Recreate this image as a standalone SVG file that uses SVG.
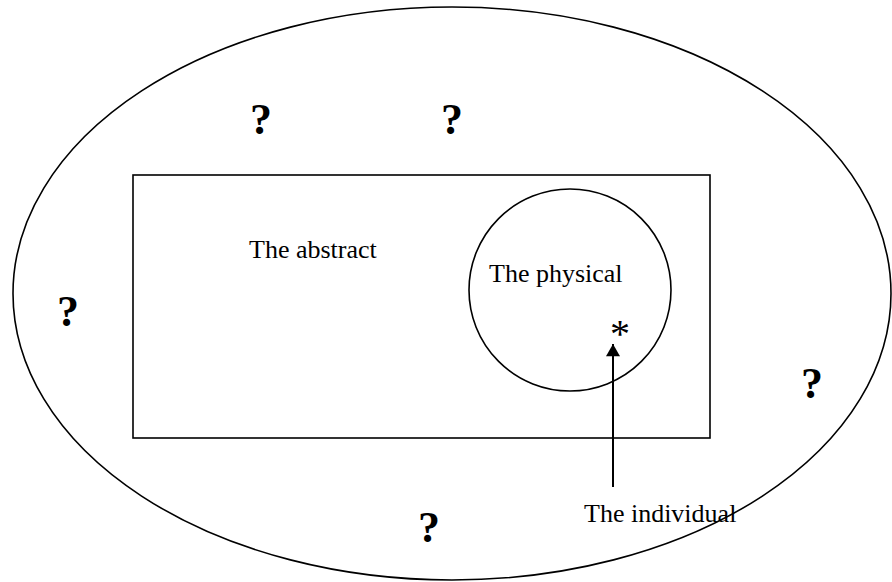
<svg xmlns="http://www.w3.org/2000/svg" width="892" height="582" viewBox="0 0 892 582">
<style>
.shape{fill:none;stroke:#000;stroke-width:1.6}
.lbl{font-family:"Liberation Serif","Times New Roman",serif;font-size:26px;fill:#000}
.q{font-family:"Liberation Serif","Times New Roman",serif;font-size:44px;font-weight:bold;fill:#000;text-anchor:middle}
</style>
<defs>
<marker id="ah" markerWidth="16" markerHeight="14" refX="14" refY="8" orient="auto" markerUnits="userSpaceOnUse" viewBox="0 0 16 16">
<path d="M0,0 L14,8 L0,16 Z" fill="#000"/>
</marker>
</defs>
<rect width="892" height="582" fill="#fff"/>
<g id="universe"><ellipse class="shape" cx="452" cy="293.5" rx="439" ry="286.5" stroke-width="1.9"/></g>
<g id="abstract"><rect class="shape" x="133" y="175" width="577" height="263"/><text class="lbl" x="249" y="258">The abstract</text></g>
<g id="physical"><circle class="shape" cx="570" cy="290" r="101"/><text class="lbl" x="489" y="282">The physical</text></g>
<g id="individual"><text x="620" y="347" font-family="Liberation Serif,serif" font-size="40" text-anchor="middle">*</text></g>
<g id="unknowns">
<text class="q" x="261" y="134">?</text>
<text class="q" x="452" y="134">?</text>
<text class="q" x="68" y="326">?</text>
<text class="q" x="812" y="398">?</text>
<text class="q" x="429" y="542">?</text>
</g>
<g id="connectors">
<line x1="613" y1="487" x2="613" y2="344" stroke="#000" stroke-width="2" marker-end="url(#ah)"/>
</g>
<g id="individual-label"><text class="lbl" x="584" y="522">The individual</text></g>
</svg>
